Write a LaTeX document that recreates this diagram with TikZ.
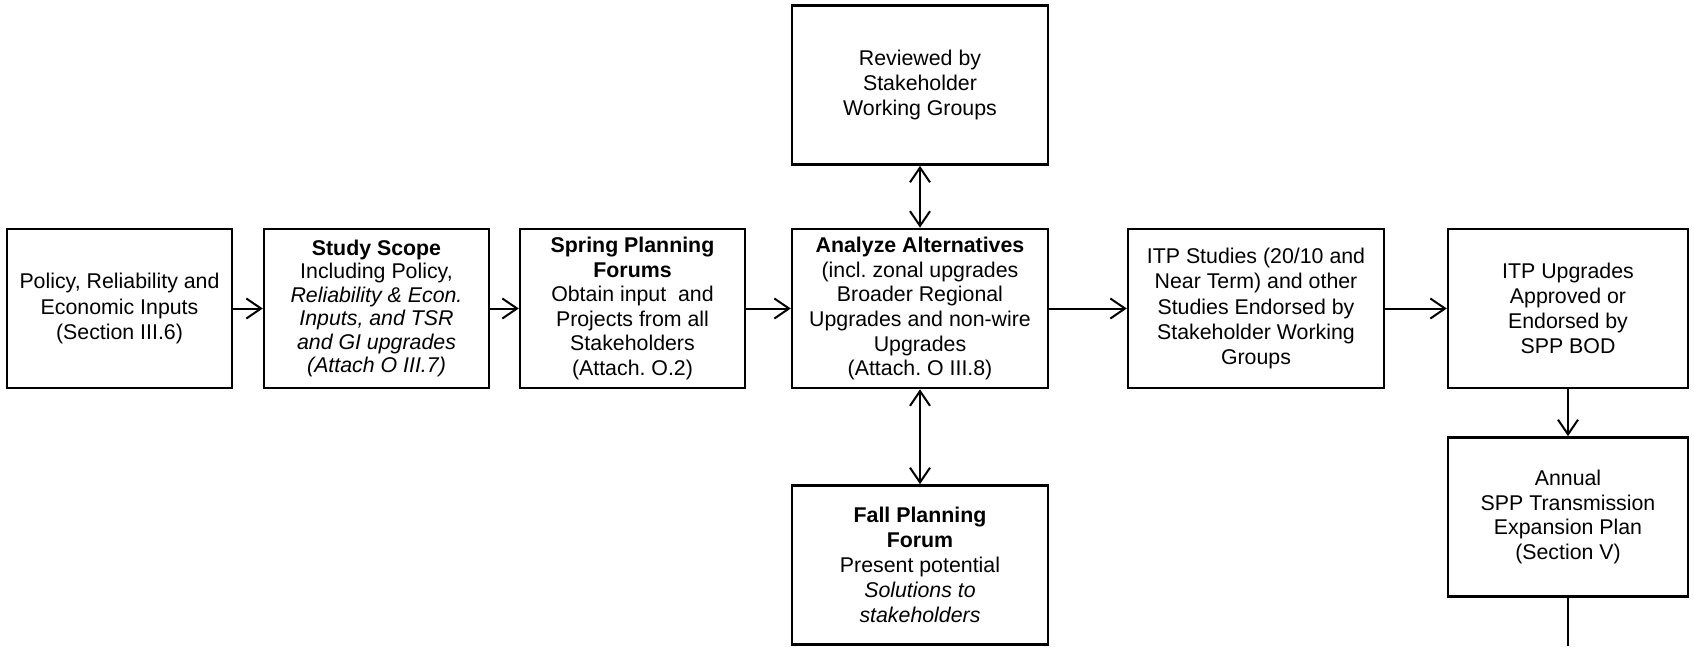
\documentclass[tikz,border=0pt]{standalone}
\usepackage{fontspec}
\setmainfont{Liberation Sans}
\usetikzlibrary{arrows.meta}
\frenchspacing

\begin{document}
\begin{tikzpicture}[x=0.75pt,y=0.75pt,yscale=-1,xscale=1,
	lead/.style={font=\fontsize{16}{#1}\selectfont},
	procbox/.style={draw,line width=1.8pt,align=center,inner sep=2pt,
		lead=18.8,minimum height=119.5pt},
	narrowbox/.style={procbox,minimum width=168.75pt},
	widebox/.style={procbox,minimum width=192pt},
	endbox/.style={procbox,minimum width=180pt},
	flow/.style={line width=1.5pt,-{Straight Barb[length=11pt,width=15pt]}},
	twoway/.style={line width=1.5pt,{Straight Barb[length=11pt,width=15pt]}-{Straight Barb[length=11pt,width=15pt]}}]
	\useasboundingbox (0,0) rectangle (1694,646);
	
	% Main row
	\node [narrowbox,lead=19] (inputs) at (119.5,308.5) {Policy, Reliability and\\Economic Inputs\\(Section III.6)};
	\node [narrowbox,lead=17.6] (scope) at (376.5,308.5) {\textbf{Study Scope}\\Including Policy,\\\textit{Reliability \& Econ.}\\\textit{Inputs, and TSR}\\\textit{and GI upgrades}\\\textit{(Attach O III.7)}};
	\node [narrowbox,lead=18.4] (spring) at (632.5,308.5) {\textbf{Spring Planning}\\\textbf{Forums}\\Obtain input\ \ and\\Projects from all\\Stakeholders\\(Attach. O.2)};
	\node [widebox,lead=18.5] (analyze) at (920,308.5) {\textbf{Analyze Alternatives}\\(incl. zonal upgrades\\Broader Regional\\Upgrades and non-wire\\Upgrades\\(Attach. O III.8)};
	\node [widebox,lead=19] (studies) at (1256,308.5) {ITP Studies (20/10 and\\Near Term) and other\\Studies Endorsed by\\Stakeholder Working\\Groups};
	\node [endbox] (approved) at (1568,308.5) {ITP Upgrades\\Approved or\\Endorsed by\\SPP BOD};
	
	% Review and forum
	\node [widebox,lead=19] (review) at (920,85) {Reviewed by\\Stakeholder\\Working Groups};
	\node [widebox] (fall) at (920,565) {\textbf{Fall Planning}\\\textbf{Forum}\\Present potential\\\textit{Solutions to}\\\textit{stakeholders}};
	
	% Plan
	\node [endbox,lead=18.6] (plan) at (1568,517) {Annual\\SPP Transmission\\Expansion Plan\\(Section V)};
	\coordinate (planout) at (1568,646);
	
	% Connectors
	\draw [flow] (inputs) -- (scope);
	\draw [flow] (scope) -- (spring);
	\draw [flow] (spring) -- (analyze);
	\draw [flow] (analyze) -- (studies);
	\draw [flow] (studies) -- (approved);
	\draw [flow] (approved) -- (plan);
	\draw [twoway] (review) -- (analyze);
	\draw [twoway] (analyze) -- (fall);
	\draw [line width=1.5pt] (plan) -- (planout);
	
\end{tikzpicture}
\end{document}
